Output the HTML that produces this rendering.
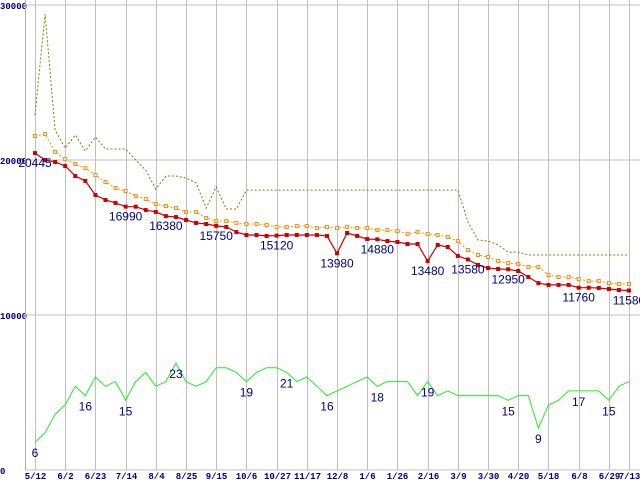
<!DOCTYPE html>
<html><head><meta charset="utf-8"><style>
html,body{margin:0;padding:0;background:#fff;}
svg{display:block;}
</style></head><body>
<svg id="chart" width="640" height="480" xmlns="http://www.w3.org/2000/svg"></svg>
<script>
const xLabels=["5/12","6/2","6/23","7/14","8/4","8/25","9/15","10/6","10/27","11/17","12/8","1/6","1/26","2/16","3/9","3/30","4/20","5/18","6/8","6/29","7/13"];
const xLabelIdx=[0,3,6,9,12,15,18,21,24,27,30,33,36,39,42,45,48,51,54,57,59];
const yTicks=[0,10000,20000,30000];
const redVals=[20445,20000,19870,19610,18970,18650,17740,17420,17230,16990,16990,16770,16650,16380,16320,16130,15940,15870,15750,15680,15350,15160,15160,15100,15120,15160,15160,15160,15160,15100,13980,15290,15100,14900,14880,14770,14710,14580,14580,13480,14520,14390,13810,13580,13230,13030,12970,12950,12840,12450,12060,11940,11940,11940,11760,11760,11740,11680,11610,11580];
const orangeY=[136,134,152,159,164,168,175,182,188,191,196,199,204,206,208,212,212,218,221,221,223,224,224,225,227,227,226,226,228,227,228,227,228,228,230,230,231,234,232,234,235,237,241,250,255,257,261,263,264,267,267,275,277,277,279,281,281,283,284,284];
const orangeVals=orangeY.map(y=>Math.round((470-y)*10000/155/10)*10);
const oliveY=[115,14,130,148,135,151,137,149,149,149,160,170,189,176,176,178,183,208,187,209,209,190,190,190,190,190,190,190,190,190,190,190,190,190,190,190,190,190,190,190,190,190,190,222,240,241,245,252,252,255,255,255,255,255,255,255,255,255,255,255];
const oliveVals=oliveY.map(y=>Math.round((470-y)*10000/155/10)*10);
const counts=[6,8,12,14,18,16,20,18,19,15,19,21,18,19,23,19,18,19,22,22,21,19,21,22,22,21,19,20,18,16,17,18,19,20,18,19,19,19,16,19,16,17,16,16,16,16,16,15,16,16,9,14,15,17,17,17,17,15,18,19];
const redLabelIdx=[0,9,13,18,24,30,34,39,43,47,54,59];
const countLabelIdx=[0,5,9,14,21,25,29,34,39,47,50,54,57];

const svg=document.getElementById('chart');
const NS='http://www.w3.org/2000/svg';
const xOf=i=>35+i*(594/59);
const yOf=v=>470-v*155/10000;
const yCnt=c=>470-c*4.65;
function mk(tag,attrs){const e=document.createElementNS(NS,tag);for(const k in attrs)e.setAttribute(k,attrs[k]);svg.appendChild(e);return e;}

// grid
yTicks.forEach(t=>{
  const l=mk('line',{x1:25,x2:640,y1:yOf(t),y2:yOf(t),stroke:'#c0c0c0','stroke-width':1});
  
  
  const tx=mk('text',{x:0,y:yOf(t)+4,'font-family':'Liberation Mono, monospace','font-size':9,'font-weight':'bold',fill:'#000080'});
  tx.textContent=t;
  
  
});
xLabelIdx.forEach((idx,k)=>{
  const x=Math.round(xOf(idx))+0.5;
  const l=mk('line',{x1:x,x2:x,y1:0,y2:470,stroke:'#c0c0c0','stroke-width':1});
  
  
  const tx=mk('text',{x:x,y:479,'text-anchor':'middle','font-family':'Liberation Mono, monospace','font-size':9,'font-weight':'bold',fill:'#000080'});
  tx.textContent=xLabels[k];
  
  
});
const ax=mk('line',{x1:25.5,x2:25.5,y1:0,y2:470,stroke:'#b0b0b0','stroke-width':1});



function pts(arr,f){return arr.map((v,i)=>xOf(i).toFixed(1)+','+f(v).toFixed(1)).join(' ');}
const ol=mk('polyline',{points:pts(oliveVals,yOf),fill:'none',stroke:'#808000','stroke-width':1,'stroke-dasharray':'2,2'});


const gl=mk('polyline',{points:pts(counts,yCnt),fill:'none',stroke:'#22ee22','stroke-width':1});


const orl=mk('polyline',{points:pts(orangeVals,yOf),fill:'none',stroke:'#ff8c00','stroke-width':1,'stroke-dasharray':'2,2'});


orangeVals.forEach((v,i)=>{
  const r=mk('rect',{x:xOf(i)-1.5,y:yOf(v)-1.5,width:3,height:3,fill:'#fff',stroke:'#ff8c00','stroke-width':1});
  
  
});
const rl=mk('polyline',{points:pts(redVals,yOf),fill:'none',stroke:'#cc0000','stroke-width':1.2});


redVals.forEach((v,i)=>{
  const r=mk('rect',{x:xOf(i)-2,y:yOf(v)-2,width:4,height:4,fill:'#cc0000'});
  
  
});
redLabelIdx.forEach(i=>{
  const t=mk('text',{x:xOf(i),y:yOf(redVals[i])+14,'text-anchor':'middle','font-family':'Liberation Sans, sans-serif','font-size':12,fill:'#000080'});
  t.textContent=redVals[i];
  
  
});
countLabelIdx.forEach(i=>{
  const t=mk('text',{x:xOf(i),y:yCnt(counts[i])+15,'text-anchor':'middle','font-family':'Liberation Sans, sans-serif','font-size':12,fill:'#000080'});
  t.textContent=counts[i];
  
  
});
</script>
</body></html>
